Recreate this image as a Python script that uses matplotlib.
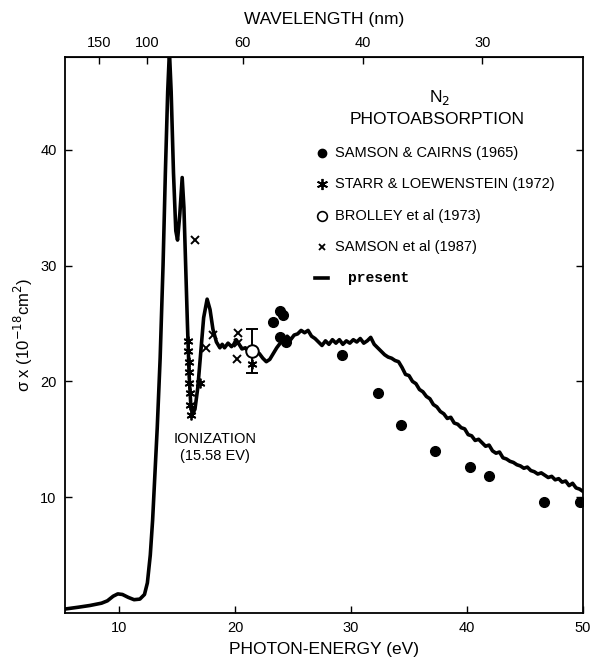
import numpy as np
import matplotlib
matplotlib.use('Agg')
import matplotlib.pyplot as plt

plt.rcParams['font.family'] = ['Liberation Sans', 'DejaVu Sans']

# "present" photoabsorption curve (photon energy eV, cross section 1e-18 cm^2)
present_e = [5.4, 6.5, 7.5, 8.5, 9.0, 9.5, 9.9, 10.3, 10.8, 11.3, 11.8, 12.2, 12.45, 12.7, 12.9,
             13.1, 13.3, 13.55, 13.8, 14.0, 14.2, 14.35, 14.5, 14.7, 14.9, 15.05, 15.25, 15.45,
             15.6, 15.75, 15.9, 16.05, 16.2, 16.35, 16.55, 16.8, 17.05, 17.3, 17.6, 17.85, 18.1,
             18.4, 18.7, 18.9, 19.1, 19.4, 19.7, 19.9, 20.1, 20.3, 20.6, 20.9, 21.2, 21.5, 21.8,
             22.1, 22.4, 22.7, 23.0, 23.3, 23.6, 23.9, 24.2, 24.5, 24.8, 25.1, 25.4, 25.7, 26.0,
             26.3, 26.6, 26.9, 27.2, 27.5, 27.8, 28.1, 28.4, 28.7, 29.0, 29.3, 29.6, 29.9, 30.2,
             30.5, 30.8, 31.1, 31.4, 31.7, 32.0, 32.3, 32.6, 32.9, 33.2, 33.5, 33.8, 34.1, 34.4,
             34.7, 35.0, 35.3, 35.6, 35.9, 36.2, 36.5, 36.8, 37.1, 37.4, 37.7, 38.0, 38.3, 38.6,
             38.9, 39.2, 39.5, 39.8, 40.1, 40.4, 40.7, 41.0, 41.3, 41.6, 41.9, 42.2, 42.5, 42.8,
             43.1, 43.4, 43.7, 44.0, 44.3, 44.6, 44.9, 45.2, 45.5, 45.8, 46.1, 46.4, 46.7, 47.0,
             47.3, 47.6, 47.9, 48.2, 48.5, 48.8, 49.1, 49.4, 49.7, 50.0]
present_s = [0.35, 0.5, 0.65, 0.85, 1.05, 1.45, 1.65, 1.6, 1.35, 1.15, 1.2, 1.6, 2.6, 5.0, 8.0,
             12.0, 16.0, 22.0, 30.0, 38.0, 45.0, 48.5, 45.0, 38.0, 33.0, 32.2, 34.5, 37.6,
             35.0, 30.0, 25.0, 20.5, 17.8, 17.2, 17.6, 19.5, 22.5, 25.5, 27.1, 26.2, 24.5,
             23.4, 22.9, 23.2, 22.9, 23.3, 23.0, 23.2, 23.6, 23.3, 22.8, 22.9, 22.5, 22.3, 22.6,
             22.4, 22.0, 21.7, 21.9, 22.4, 22.9, 23.3, 23.5, 23.9, 23.6, 24.0, 24.1, 24.4, 24.2,
             24.4, 23.9, 23.7, 23.4, 23.1, 23.5, 23.2, 23.6, 23.3, 23.6, 23.2, 23.5, 23.3, 23.6,
             23.4, 23.7, 23.3, 23.5, 23.8, 23.2, 22.9, 22.6, 22.3, 22.1, 22.0, 21.8, 21.7, 21.2,
             20.6, 20.5, 20.0, 19.8, 19.3, 19.1, 18.7, 18.5, 18.0, 17.8, 17.4, 17.2, 16.8, 16.9,
             16.4, 16.3, 16.0, 15.9, 15.4, 15.3, 14.9, 15.0, 14.7, 14.4, 14.5, 14.0, 13.8, 13.9,
             13.4, 13.3, 13.1, 13.0, 12.8, 12.7, 12.5, 12.6, 12.3, 12.2, 12.0, 12.1, 11.9, 11.7,
             11.8, 11.5, 11.6, 11.3, 11.4, 11.0, 11.2, 10.8, 10.7, 10.5]

# Samson & Cairns (1965)
sc_e = [23.3, 23.9, 24.1, 23.9, 24.4, 29.2, 32.3, 34.3, 37.2, 40.3, 41.9, 46.6, 49.7]
sc_s = [25.1, 26.1, 25.7, 23.8, 23.4, 22.3, 19.0, 16.2, 14.0, 12.6, 11.8, 9.6, 9.6]

# Starr & Loewenstein (1972)
sl_e = [15.95, 15.98, 16.0, 16.03, 16.06, 16.1, 16.15, 16.2, 16.95, 21.5]
sl_s = [23.5, 22.6, 21.7, 20.8, 19.9, 19.0, 18.0, 17.1, 19.9, 21.5]

# Brolley et al (1973)
br_e = [21.5]
br_s = [22.6]
br_err = [1.9]

# Samson et al (1987)
s87_e = [16.55, 17.5, 18.1, 20.3, 20.3, 20.2]
s87_s = [32.2, 22.9, 24.0, 24.2, 23.3, 21.9]

x_ticks = [10, 20, 30, 40, 50]
y_ticks = [10, 20, 30, 40]
wl_ticks = [150, 100, 60, 40, 30]

HC = 1239.84

fig = plt.figure(figsize=(5.91, 6.64), dpi=100)
ax = fig.add_axes([0.110, 0.0768, 0.8765, 0.8372])

ax.plot(present_e, present_s, color='black', lw=2.6, solid_joinstyle='round')
ax.plot(sc_e, sc_s, 'o', color='black', ms=7)
ax.plot(sl_e, sl_s, ls='none', marker=(6, 2, 0), color='black', ms=7, mew=1.3)
ax.errorbar(br_e, br_s, yerr=br_err, fmt='o', mfc='white', mec='black', ecolor='black',
            ms=9, mew=1.4, capsize=4, elinewidth=1.4, zorder=5)
ax.plot(s87_e, s87_s, 'x', color='black', ms=6, mew=1.4)

ax.set_xlim(5.35, 50)
ax.set_ylim(0, 48)
ax.set_xticks(x_ticks)
ax.set_yticks(y_ticks)
ax.tick_params(direction='in', length=5, width=1, labelsize=10.5, top=False, right=True,
               pad=6)
for sp in ax.spines.values():
    sp.set_linewidth(1.3)

ax.set_xlabel('PHOTON-ENERGY (eV)', fontsize=12.5, labelpad=5)
ax.set_ylabel(r'σ x (10$^{-18}$cm$^2$)', fontsize=12)
ax.yaxis.set_label_coords(-0.058, 0.5)


def e_to_wl(e):
    e = np.asarray(e, dtype=float)
    return HC / np.where(e == 0, 1e-9, e)


top = ax.secondary_xaxis('top', functions=(e_to_wl, e_to_wl))
top.set_xticks(wl_ticks)
top.tick_params(direction='in', length=5, width=1, labelsize=10.5, pad=5)
top.set_xlabel('WAVELENGTH (nm)', fontsize=12.5, labelpad=9)

# legend / title block
ax.text(0.724, 0.928, r'N$_2$', transform=ax.transAxes, ha='center', va='center', fontsize=12.5)
ax.text(0.718, 0.887, 'PHOTOABSORPTION', transform=ax.transAxes, ha='center', va='center',
        fontsize=12.5)

mx, tx = 0.496, 0.521
rows = [0.827, 0.772, 0.715, 0.658, 0.603]
ax.plot([mx], [rows[0]], 'o', color='black', ms=6, transform=ax.transAxes)
ax.plot([mx], [rows[1]], ls='none', marker=(6, 2, 0), color='black', ms=8, mew=1.3,
        transform=ax.transAxes)
ax.plot([mx], [rows[2]], 'o', mfc='white', mec='black', ms=7, mew=1.2, transform=ax.transAxes)
ax.plot([mx], [rows[3]], 'x', color='black', ms=5, mew=1.3, transform=ax.transAxes)
ax.plot([0.483, 0.508], [rows[4], rows[4]], color='black', lw=2.6, transform=ax.transAxes)
labels = ['SAMSON & CAIRNS (1965)', 'STARR & LOEWENSTEIN (1972)', 'BROLLEY et al (1973)',
          'SAMSON et al (1987)']
for r, lab in zip(rows[:4], labels):
    ax.text(tx, r, lab, transform=ax.transAxes, ha='left', va='center', fontsize=10.5)
ax.text(0.546, rows[4], 'present', transform=ax.transAxes, ha='left', va='center',
        fontsize=10.5, family=['Liberation Mono', 'DejaVu Sans Mono'], fontweight='bold')

ax.text(18.3, 14.3, 'IONIZATION\n(15.58 EV)', ha='center', va='center', fontsize=10.5,
        linespacing=1.25)

fig.savefig('out.png', dpi=100, facecolor='white')
